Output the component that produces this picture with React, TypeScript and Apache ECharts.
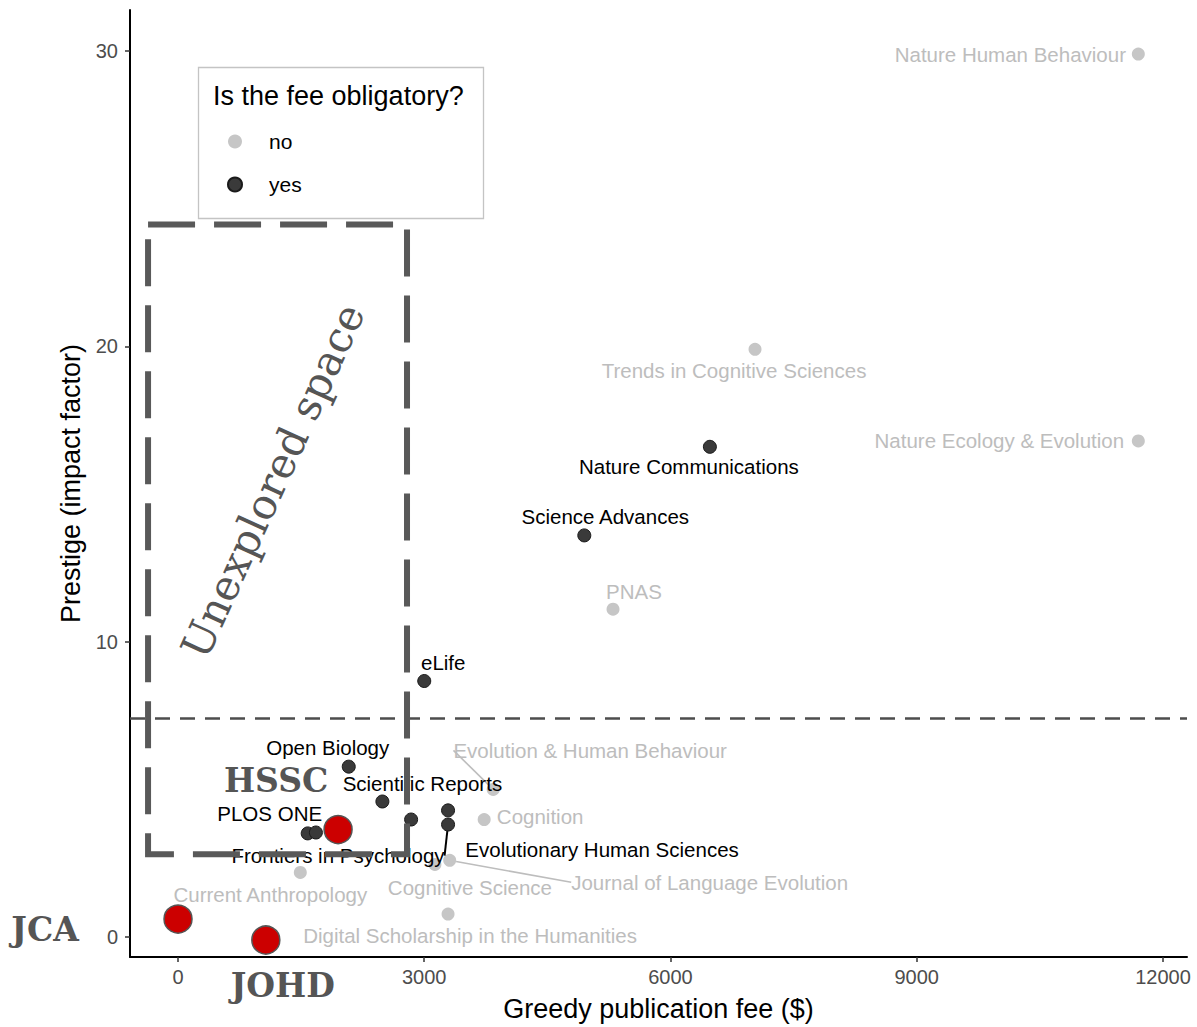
import React, { useEffect, useRef } from "react";
import * as echarts from "echarts";

// ---- data ----
const noNames = [
  "Nature Human Behaviour",
  "Trends in Cognitive Sciences",
  "Nature Ecology & Evolution",
  "PNAS",
  "Evolution & Human Behaviour",
  "Cognition",
  "Cognitive Science",
  "Journal of Language Evolution",
  "Digital Scholarship in the Humanities",
  "Current Anthropology",
];
const noFee = [11700, 7030, 11700, 5300, 3840, 3730, 3130, 3310, 3290, 1490];
const noImpact = [29.9, 19.9, 16.8, 11.1, 5.0, 3.98, 2.46, 2.6, 0.78, 2.19];

const yesNames = [
  "Nature Communications",
  "Science Advances",
  "eLife",
  "Open Biology",
  "Scientific Reports",
  "",
  "Evolutionary Human Sciences",
  "Frontiers in Psychology",
  "PLOS ONE",
  "",
];
const yesFee = [6480, 4950, 3000, 2080, 2490, 2840, 3290, 3290, 1580, 1680];
const yesImpact = [16.6, 13.6, 8.67, 5.77, 4.59, 3.98, 4.29, 3.81, 3.51, 3.54];

const featuredNames = ["JCA", "JOHD", "HSSC"];
const featuredFee = [0, 1070, 1950];
const featuredImpact = [0.61, -0.1, 3.64];

const prestigeThreshold = 7.42;
const boxFee = [-365, 2790];
const boxImpact = [2.8, 24.13];

const xTicks = [0, 3000, 6000, 9000, 12000];
const yTicks = [0, 10, 20, 30];

// ---- layout of annotation labels (pixel offsets from the point) ----
const labelOffsets: Record<string, number[]> = {
  "Nature Human Behaviour": [-128, 0],
  "Trends in Cognitive Sciences": [-21, 21],
  "Nature Ecology & Evolution": [-139, 0],
  "Nature Communications": [-21, 20],
  "Science Advances": [21, -19],
  PNAS: [21, -18],
  eLife: [19, -19],
  "Open Biology": [-21, -19],
  "Scientific Reports": [40, -18],
  "PLOS ONE": [-38, -20],
  "Frontiers in Psychology": [-110, 31],
  "Evolutionary Human Sciences": [154, 39],
  "Evolution & Human Behaviour": [97, -39],
  Cognition: [56, -3],
  "Cognitive Science": [35, 23],
  "Journal of Language Evolution": [260, 22],
  "Digital Scholarship in the Humanities": [22, 21],
  "Current Anthropology": [-30, 22],
  HSSC: [-62, -49],
  JCA: [-133, 10],
  JOHD: [17, 45],
};
const leaderNames = ["Frontiers in Psychology", "Evolution & Human Behaviour", "Journal of Language Evolution"];

const GRAY = "#c6c6c6";
const GRAY_TEXT = "#bdbdbd";
const DARK = "#3a3a3a";
const SANS = "'Liberation Sans', Arial, Helvetica, sans-serif";

function buildItems(names: string[], xs: number[], ys: number[], lineColor: string, lineWidth: number) {
  return names.map((n, i) => ({
    name: n,
    value: [xs[i], ys[i]],
    labelLine: leaderNames.includes(n)
      ? { show: true, smooth: false, lineStyle: { color: lineColor, width: lineWidth } }
      : { show: false },
  }));
}

const layoutFn = (params: any) => {
  const off = labelOffsets[params.text];
  return off ? { dx: off[0], dy: off[1] } : {};
};

export default function App() {
  const ref = useRef<HTMLDivElement>(null);

  useEffect(() => {
    document.body.style.margin = "0";
    if (!ref.current) return;
    const chart = echarts.init(ref.current, undefined, { renderer: "svg" });

    const option: any = {
      animation: false,
      backgroundColor: "#ffffff",
      grid: { left: 130, right: 10, top: 10, bottom: 67, containLabel: false },
      xAxis: {
        type: "value",
        min: -585,
        max: 12293,
        name: "Greedy publication fee ($)",
        nameLocation: "middle",
        nameGap: 38,
        nameTextStyle: { fontSize: 27, color: "#000", fontFamily: SANS },
        axisLine: { show: true, onZero: false, lineStyle: { color: "#000", width: 2 } },
        axisTick: { show: true, length: 5, lineStyle: { color: "#333", width: 1.5 }, customValues: xTicks },
        axisLabel: {
          customValues: xTicks,
          formatter: (v: number) => String(v),
          fontSize: 20,
          color: "#4d4d4d",
          fontFamily: SANS,
          margin: 10,
        },
        splitLine: { show: false },
      },
      yAxis: {
        type: "value",
        min: -0.675,
        max: 31.39,
        name: "Prestige (impact factor)",
        nameLocation: "middle",
        nameGap: 46,
        nameTextStyle: { fontSize: 27, color: "#000", fontFamily: SANS },
        axisLine: { show: true, onZero: false, lineStyle: { color: "#000", width: 2 } },
        axisTick: { show: true, length: 5, lineStyle: { color: "#333", width: 1.5 }, customValues: yTicks },
        axisLabel: {
          customValues: yTicks,
          formatter: (v: number) => String(v),
          fontSize: 20,
          color: "#4d4d4d",
          fontFamily: SANS,
          margin: 12,
        },
        splitLine: { show: false },
      },
      legend: {
        data: ["no", "yes"],
        orient: "vertical",
        left: 222,
        top: 126,
        itemWidth: 14,
        itemHeight: 14,
        itemGap: 22,
        icon: "circle",
        textStyle: { fontSize: 21, color: "#000", fontFamily: SANS, padding: [0, 0, 0, 22] },
        selectedMode: false,
      },
      graphic: [
        {
          type: "rect",
          shape: { x: 198.5, y: 67.5, width: 285, height: 151 },
          style: { fill: "#fff", stroke: "#c4c4c4", lineWidth: 1.3 },
          z: 0,
          silent: true,
        },
        {
          type: "text",
          x: 213,
          y: 96,
          style: {
            text: "Is the fee obligatory?",
            fontSize: 27,
            fill: "#000",
            fontFamily: SANS,
            textVerticalAlign: "middle",
          },
          z: 1,
          silent: true,
        },
        {
          type: "text",
          x: 273,
          y: 481,
          rotation: (65.5 * Math.PI) / 180,
          style: {
            text: "Unexplored space",
            fontSize: 42,
            fill: "#555555",
            fontFamily: "'DejaVu Serif', 'Liberation Serif', serif",
            textAlign: "center",
            textVerticalAlign: "middle",
          },
          z: 10,
          silent: true,
        },
      ],
      series: [
        {
          name: "no",
          type: "scatter",
          symbolSize: 13,
          itemStyle: { color: GRAY, opacity: 1 },
          data: buildItems(noNames, noFee, noImpact, "#bdbdbd", 1.6),
          label: {
            show: true,
            position: "inside",
            formatter: "{b}",
            fontSize: 20.5,
            color: GRAY_TEXT,
            fontFamily: SANS,
          },
          labelLayout: layoutFn,
          z: 2,
        },
        {
          name: "yes",
          type: "scatter",
          symbolSize: 13,
          itemStyle: { color: DARK, borderColor: "#1a1a1a", borderWidth: 1, opacity: 1 },
          data: buildItems(yesNames, yesFee, yesImpact, "#000", 2),
          label: {
            show: true,
            position: "inside",
            formatter: "{b}",
            fontSize: 20.5,
            color: "#000",
            fontFamily: SANS,
          },
          labelLayout: layoutFn,
          z: 3,
        },
        {
          name: "featured",
          type: "scatter",
          symbolSize: 28,
          itemStyle: { color: "#cc0000", borderColor: "#555", borderWidth: 1.5, opacity: 1 },
          data: featuredNames.map((n, i) => ({ name: n, value: [featuredFee[i], featuredImpact[i]] })),
          label: {
            show: true,
            position: "inside",
            formatter: "{b}",
            fontSize: 33,
            fontWeight: "bold",
            color: "#555555",
            fontFamily: "'DejaVu Serif', 'Liberation Serif', serif",
          },
          labelLayout: layoutFn,
          z: 4,
        },
        {
          name: "box",
          type: "line",
          symbol: "none",
          silent: true,
          data: [
            [boxFee[0], boxImpact[1]],
            [boxFee[1], boxImpact[1]],
            [boxFee[1], boxImpact[0]],
            [boxFee[0], boxImpact[0]],
            [boxFee[0], boxImpact[1]],
          ],
          lineStyle: { color: "#595959", width: 6, type: [47, 19], cap: "butt", join: "miter" },
          z: 6,
          markLine: {
            silent: true,
            symbol: ["none", "none"],
            label: { show: false },
            lineStyle: { color: "#4d4d4d", width: 2.5, type: [15, 10] },
            data: [{ yAxis: prestigeThreshold }],
          },
        },
      ],
    };

    chart.setOption(option);
    return () => chart.dispose();
  }, []);

  return <div ref={ref} style={{ width: 1197, height: 1027 }} />;
}
